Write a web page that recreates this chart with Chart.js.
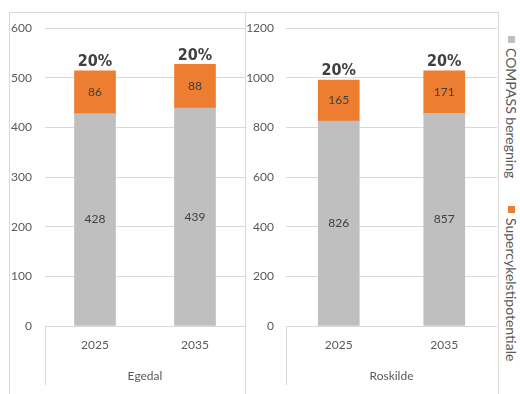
<!DOCTYPE html>
<html><head><meta charset="utf-8">
<script src="https://cdn.jsdelivr.net/npm/chart.js@4"></script>
<style>
body{margin:0;background:#fff;}
#wrap{position:relative;width:520px;height:394px;overflow:hidden;background:#fff;font-family:Lato,sans-serif;}
.ln{position:absolute;background:#d9d9d9;}
canvas{position:absolute;}
.leg{position:absolute;writing-mode:vertical-rl;font-size:14px;line-height:17px;color:#595959;white-space:nowrap;font-family:Lato,sans-serif;}
.leg i{display:inline-block;width:7px;height:7px;margin-bottom:5px;}
</style></head><body>
<div id="wrap">
  <div class="ln" style="left:9px;top:12px;width:490px;height:1px"></div>
  <div class="ln" style="left:9px;top:12px;width:1px;height:382px"></div>
  <div class="ln" style="left:245px;top:12px;width:1px;height:382px"></div>
  <div class="ln" style="left:498px;top:12px;width:1px;height:382px"></div>
  <div class="ln" style="left:45px;top:326px;width:1px;height:59px"></div>
  <div class="ln" style="left:286px;top:326px;width:1px;height:59px"></div>
  <canvas id="c1" width="236" height="386" style="left:9px;top:8px"></canvas>
  <canvas id="c2" width="253" height="385" style="left:245px;top:9px"></canvas>
  <div class="leg" id="leg1" style="left:503px;top:36px"></div>
  <div class="leg" id="leg2" style="left:503px;top:206px"></div>
</div>
<script>
const years = ['2025', '2035'];
const panelNames = ['Egedal', 'Roskilde'];
const seriesNames = ['COMPASS beregning', 'Supercykelstipotentiale'];
const seriesColors = ['#BFBFBF', '#ED7D31'];
const egedalCompass = [428, 439];
const egedalSuper = [86, 88];
const roskildeCompass = [826, 857];
const roskildeSuper = [165, 171];
const egedalAxis = {max: 600, step: 100};
const roskildeAxis = {max: 1200, step: 200};

const labelPlugin = {
  id: 'barLabels',
  afterDatasetsDraw(chart) {
    const ctx = chart.ctx;
    ctx.save();
    ctx.textAlign = 'center';
    ctx.textBaseline = 'middle';
    ctx.fillStyle = '#404040';
    ctx.font = '12px Lato';
    chart.data.datasets.forEach((ds, i) => {
      chart.getDatasetMeta(i).data.forEach((bar, j) => {
        ctx.fillText(String(ds.data[j]), bar.x, (bar.y + bar.base) / 2);
      });
    });
    ctx.font = 'bold 16px "Liberation Sans Narrow", "DejaVu Sans Condensed", sans-serif';
    const base = chart.data.datasets[0].data, top = chart.data.datasets[1].data;
    chart.getDatasetMeta(1).data.forEach((bar, j) => {
      ctx.fillText(Math.round(top[j] / base[j] * 100) + '%', bar.x, bar.y - 9);
    });
    ctx.restore();
  }
};

function makeChart(id, name, compass, sup, axis, yWidth, yPad, padRight) {
  return new Chart(document.getElementById(id), {
    type: 'bar',
    data: {
      labels: years,
      datasets: [
        {label: seriesNames[0], data: compass, backgroundColor: seriesColors[0], barThickness: 41},
        {label: seriesNames[1], data: sup, backgroundColor: seriesColors[1], barThickness: 41}
      ]
    },
    options: {
      responsive: false,
      animation: false,
      layout: {padding: {top: 0, right: padRight, bottom: 0, left: 0}},
      plugins: {legend: {display: false}, tooltip: {enabled: false}},
      scales: {
        x: {
          stacked: true,
          grid: {display: false, drawTicks: false},
          border: {display: false},
          ticks: {color: '#595959', font: {family: 'Lato', size: 12}, padding: 12},
          title: {display: true, text: name, color: '#595959', font: {family: 'Lato', size: 12}, padding: {top: 11, bottom: 11}},
          afterFit(s) { s.height = 68; }
        },
        y: {
          stacked: true,
          min: 0, max: axis.max,
          ticks: {stepSize: axis.step, color: '#595959', font: {family: 'Lato', size: 12}, padding: yPad,
                  callback: v => String(v)},
          grid: {color: '#d9d9d9', drawTicks: false},
          border: {display: false},
          afterFit(s) { s.width = yWidth; }
        }
      }
    },
    plugins: [labelPlugin]
  });
}

makeChart('c1', panelNames[0], egedalCompass, egedalSuper, egedalAxis, 36, 13, 0);
makeChart('c2', panelNames[1], roskildeCompass, roskildeSuper, roskildeAxis, 41, 12, 1);

[['leg1', 0], ['leg2', 1]].forEach(([id, k]) => {
  const el = document.getElementById(id);
  const sq = document.createElement('i');
  sq.style.background = seriesColors[k];
  el.appendChild(sq);
  el.appendChild(document.createTextNode(seriesNames[k]));
});
</script>
</body></html>
